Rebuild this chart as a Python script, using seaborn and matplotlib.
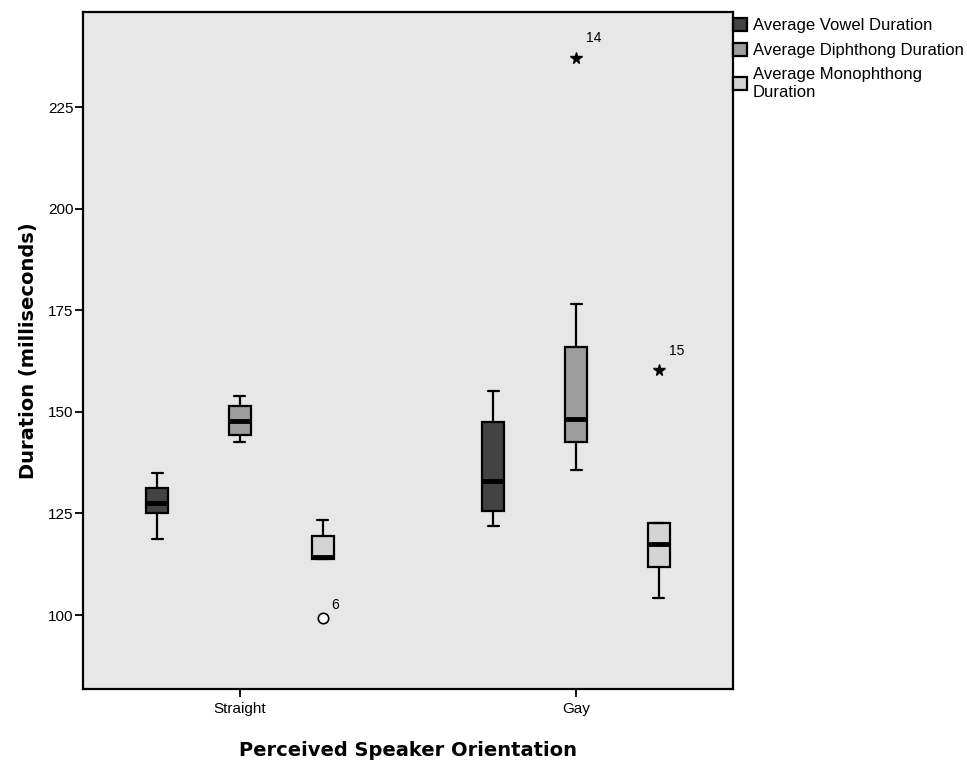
import numpy as np
import pandas as pd
import matplotlib
matplotlib.use("Agg")
import matplotlib.pyplot as plt
import seaborn as sns

# ---- data -------------------------------------------------------------
orientations = ["Straight", "Gay"]
measures = ["Average Vowel Duration",
            "Average Diphthong Duration",
            "Average Monophthong\nDuration"]

# five-number summaries per box: lower whisker, Q1, median, Q3, upper whisker (ms)
straight_vowel = [118.6, 125.2, 127.5, 131.2, 135.0]
straight_diphthong = [142.6, 144.3, 147.8, 151.4, 153.9]
straight_monophthong = [113.8, 113.8, 114.2, 119.4, 123.5]
gay_vowel = [121.9, 125.6, 133.0, 147.4, 155.1]
gay_diphthong = [135.7, 142.5, 148.2, 165.9, 176.5]
gay_monophthong = [104.1, 111.9, 117.6, 122.7, 122.7]

# individual speakers lying outside the whiskers
outlier_orientation = ["Straight", "Gay", "Gay"]
outlier_measure = [measures[2], measures[1], measures[2]]
outlier_value = [99.2, 237.2, 160.3]
outlier_case = ["6", "14", "15"]

summaries = {
    ("Straight", measures[0]): straight_vowel,
    ("Straight", measures[1]): straight_diphthong,
    ("Straight", measures[2]): straight_monophthong,
    ("Gay", measures[0]): gay_vowel,
    ("Gay", measures[1]): gay_diphthong,
    ("Gay", measures[2]): gay_monophthong,
}

rows = []
for (orient, meas), stats in summaries.items():
    for v in stats:
        rows.append({"orientation": orient, "measure": meas, "duration": v})
df = pd.DataFrame(rows)

# ---- style --------------------------------------------------------------
sns.set_style("ticks")
plt.rcParams["font.family"] = ["Liberation Sans", "DejaVu Sans"]
plt.rcParams["text.color"] = "black"
plt.rcParams["axes.labelcolor"] = "black"
plt.rcParams["xtick.color"] = "black"
plt.rcParams["ytick.color"] = "black"

palette = {measures[0]: "#434343", measures[1]: "#9e9e9e", measures[2]: "#d4d4d4"}
group_width = 0.74

fig = plt.figure(figsize=(9.67, 7.64), dpi=100)
ax = fig.add_axes([83 / 967, 75 / 764, 650 / 967, 677 / 764])
ax.set_facecolor("#e7e7e7")

sns.boxplot(
    data=df, x="orientation", y="duration", hue="measure",
    order=orientations, hue_order=measures, palette=palette,
    whis=(0, 100), width=group_width, gap=0.734, saturation=1,
    linecolor="black", linewidth=1.6, showfliers=False,
    medianprops=dict(color="black", linewidth=3.5),
    ax=ax,
)

# outliers: open circle for mild, star for extreme (> 3 IQR from the box)
for orient, meas, val, case in zip(outlier_orientation, outlier_measure,
                                    outlier_value, outlier_case):
    lo, q1, med, q3, hi = summaries[(orient, meas)]
    iqr = q3 - q1
    extreme = val > q3 + 3 * iqr or val < q1 - 3 * iqr
    xpos = orientations.index(orient) + (measures.index(meas) - 1) * group_width / 3
    if extreme:
        ax.plot(xpos, val, marker="*", color="black", markersize=8.5, linestyle="none")
        off = (13, 14)
    else:
        ax.plot(xpos, val, marker="o", mfc="white", mec="black", mew=1.2,
                markersize=7.5, linestyle="none")
        off = (9, 9.5)
    ax.annotate(case, (xpos, val), xytext=off, textcoords="offset points",
                ha="center", va="center", fontsize=10, color="black")

ax.set_xlim(-0.467, 1.467)
ax.set_ylim(81.8, 248.4)
ax.set_yticks([100, 125, 150, 175, 200, 225])
ax.set_xticks([0, 1])
ax.set_xticklabels(orientations)
ax.tick_params(axis="both", labelsize=11, length=6, width=1.3, color="black",
               labelcolor="black", direction="out")
ax.tick_params(axis="y", pad=1)
ax.tick_params(axis="x", pad=3)

for side in ["left", "right", "top", "bottom"]:
    ax.spines[side].set_visible(True)
    ax.spines[side].set_color("black")
    ax.spines[side].set_linewidth(1.6)

ax.set_xlabel("Perceived Speaker Orientation", fontsize=14, fontweight="bold",
              family="DejaVu Sans", color="black")
ax.set_ylabel("Duration (milliseconds)", fontsize=14, fontweight="bold",
              family="DejaVu Sans", color="black")
ax.xaxis.set_label_coords(0.5, -0.077)
ax.yaxis.set_label_coords(-0.069, 0.5)

sns.move_legend(
    ax, "upper left", bbox_to_anchor=(1.0, 1 - 6 / 677), title=None, frameon=False,
    fontsize=12, borderaxespad=0, borderpad=0, handlelength=0.85, handleheight=0.85,
    handletextpad=0.35, labelspacing=0.55, labelcolor="black",
)

fig.savefig("out.png", dpi=100)
